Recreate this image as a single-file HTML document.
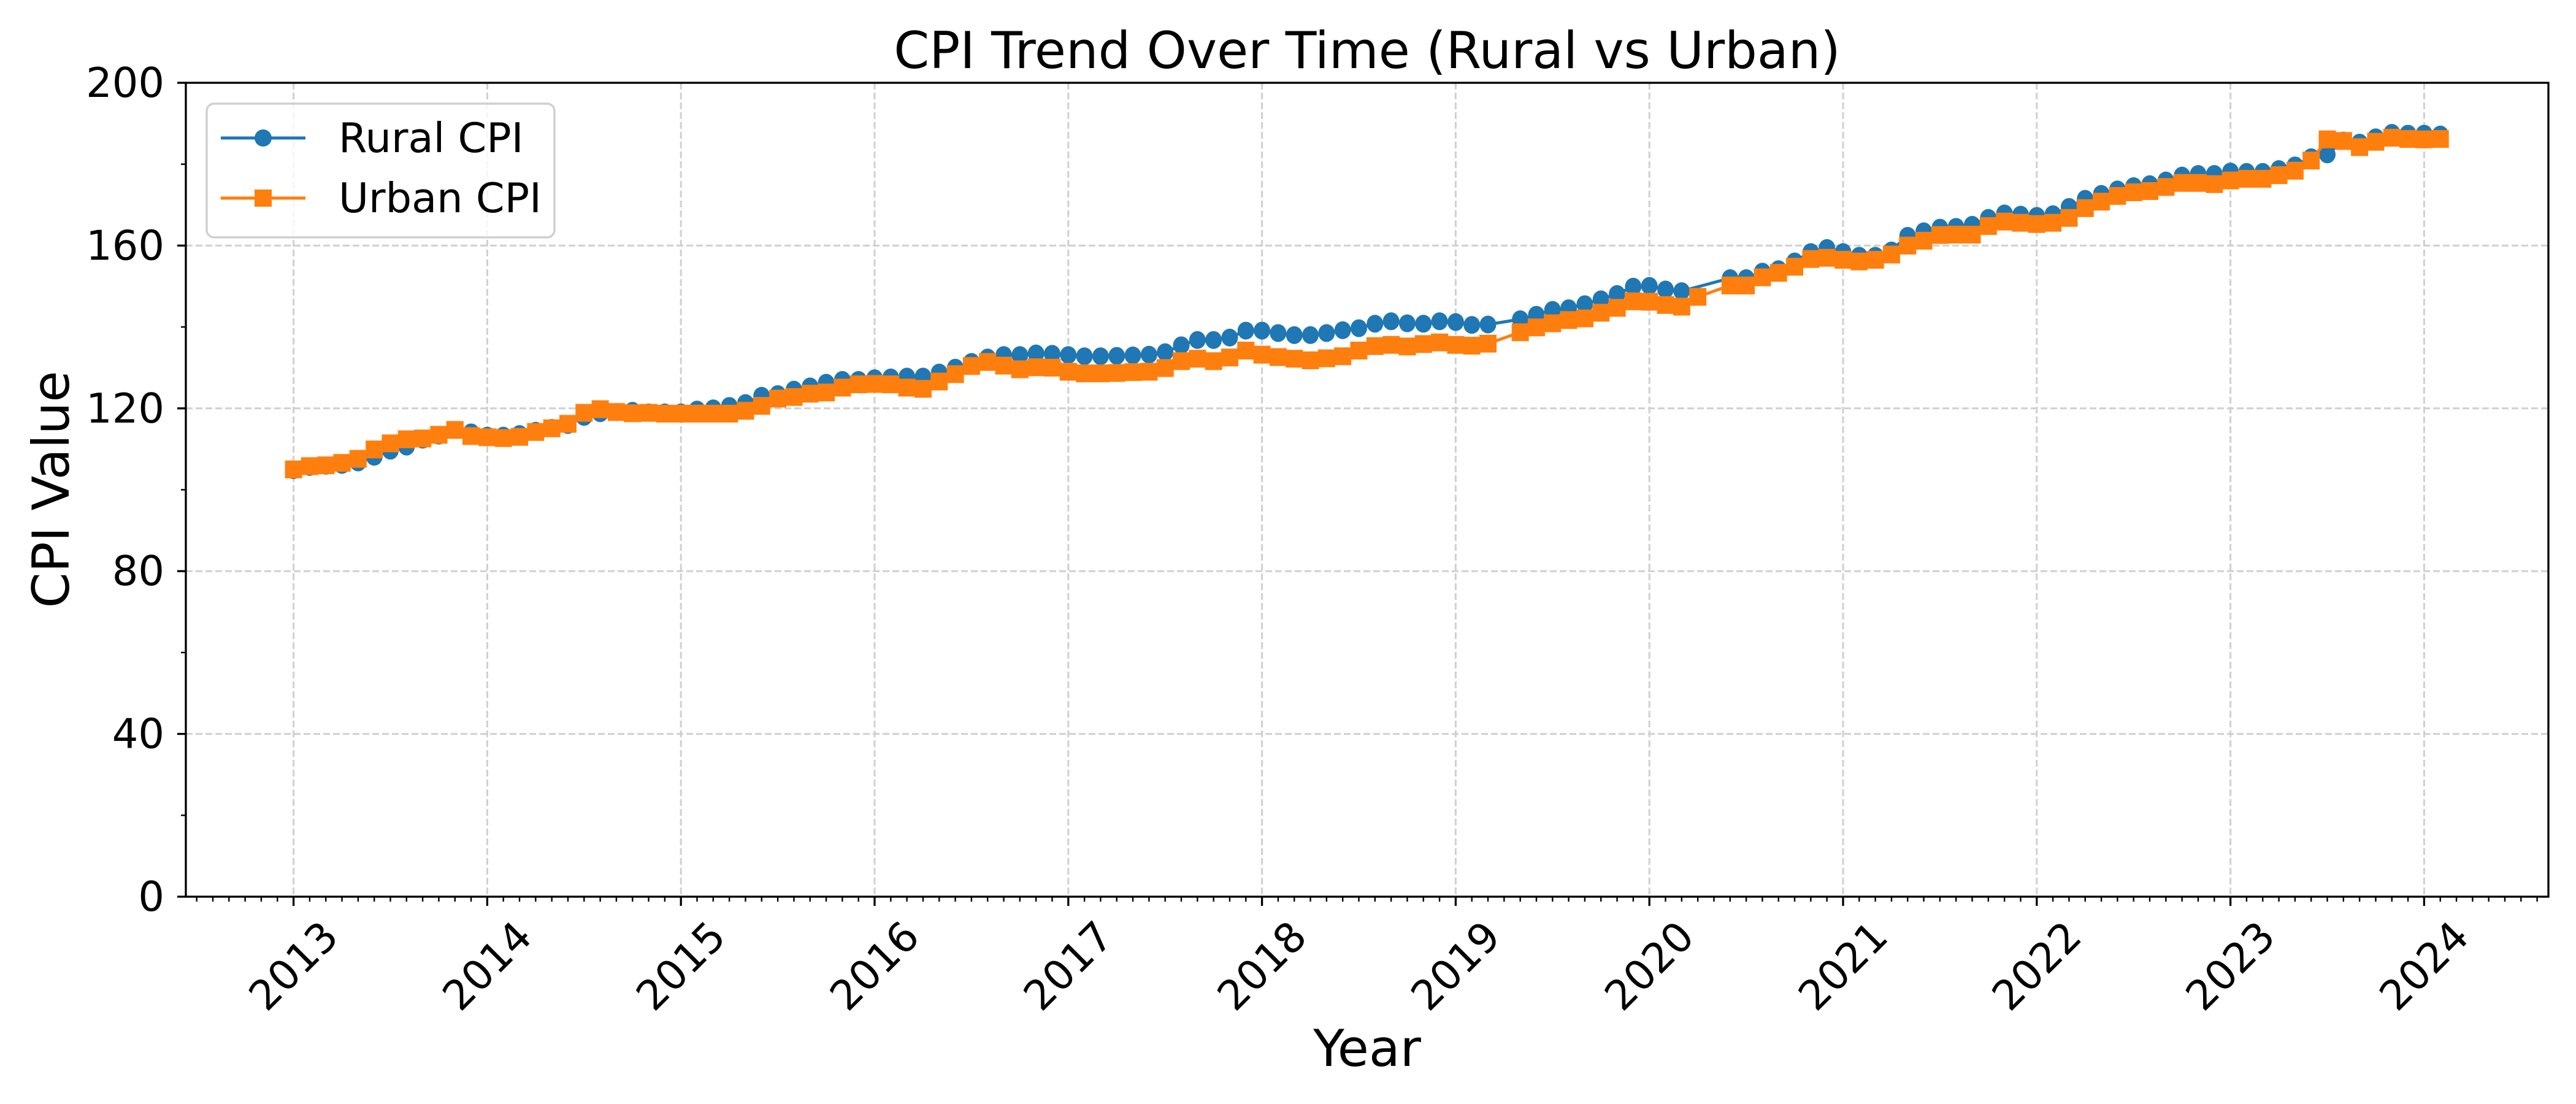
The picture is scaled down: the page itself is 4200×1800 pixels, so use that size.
<!DOCTYPE html>
<html><head><meta charset="utf-8">
<style>
html,body{margin:0;padding:0;background:#fff;}
svg{display:block;}
text{font-family:"DejaVu Sans","Liberation Sans",sans-serif;fill:#000;}
</style></head>
<body>
<svg id="chart" xmlns="http://www.w3.org/2000/svg" width="4200" height="1800" viewBox="0 0 4200 1800">
<rect x="0" y="0" width="4200" height="1800" fill="#fff"/>
<g id="grid"></g>
<g id="series"></g>
<g id="axes"></g>
<text x="2229" y="111" font-size="83" text-anchor="middle">CPI Trend Over Time (Rural vs Urban)</text>
<text x="2229" y="1738" font-size="83" text-anchor="middle">Year</text>
<text x="0" y="0" font-size="83" text-anchor="middle" transform="translate(112,798) rotate(-90)">CPI Value</text>
<g>
<rect x="337" y="169" width="567" height="218" rx="12" fill="#fff" fill-opacity="0.8" stroke="#d0d0d0" stroke-width="3.5"/>
<g>
<line x1="360" y1="225" x2="498" y2="225" stroke="#1f77b4" stroke-width="5"/>
<circle cx="429" cy="225" r="14" fill="#1f77b4"/>
<text x="552" y="248" font-size="67">Rural CPI</text>
</g>
<g>
<line x1="360" y1="323" x2="498" y2="323" stroke="#ff7f0e" stroke-width="5"/>
<rect x="415" y="309" width="28" height="28" fill="#ff7f0e"/>
<text x="552" y="346" font-size="67">Urban CPI</text>
</g>
</g>
</svg>
<script>
// Data: monthly from Jan 2013 (index 0) to Feb 2024 (index 133); null = missing month
const startYear = 2013;
const yearTicks = [2013,2014,2015,2016,2017,2018,2019,2020,2021,2022,2023,2024];
const yTicks = [0,40,80,120,160,200];
const ruralCPI = [
104.8,105.6,105.9,106.1,106.7,108.1,109.6,110.6,112.3,113.3,114.7,114.1,
113.3,113.3,113.7,114.5,115.2,115.9,117.9,118.8,119.1,119.4,119.0,119.0,
119.0,119.7,120.0,120.6,121.3,123.1,123.5,124.6,125.4,126.3,127.0,127.0,
127.4,127.6,127.8,127.8,128.8,130.0,131.4,132.5,133.1,133.1,133.5,133.4,
133.1,132.8,132.8,132.9,133.0,133.2,133.8,135.5,136.8,136.8,137.4,139.1,
139.1,138.5,138.0,138.0,138.5,139.2,139.7,140.8,141.4,140.9,140.8,141.4,
141.2,140.5,140.6,null,141.9,143.0,144.2,144.6,145.6,146.8,148.1,149.9,
150.1,149.2,148.8,null,null,152.0,152.0,153.6,154.2,156.1,158.4,159.4,
158.4,157.5,157.5,158.8,162.4,163.5,164.4,164.6,165.1,166.8,167.9,167.6,
167.3,167.7,169.5,171.5,172.7,173.8,174.6,175.1,176.0,177.2,177.6,177.6,
178.2,178.1,178.1,178.8,179.7,181.7,182.4,185.8,185.3,186.6,187.7,187.5,
187.5,187.3];
const urbanCPI = [
105.0,105.8,106.0,106.6,107.6,109.9,111.4,112.4,112.6,113.5,114.7,113.2,
112.9,112.7,113.0,114.2,115.1,116.2,118.9,119.8,119.1,118.8,118.9,118.7,
118.7,118.7,118.7,118.7,119.4,120.6,122.4,122.8,123.6,123.9,125.1,125.9,
126.0,125.9,125.1,124.8,126.6,128.4,130.4,131.4,130.5,129.6,130.1,130.0,
129.0,128.6,128.6,128.7,128.9,129.0,129.9,131.6,132.2,131.6,132.5,134.2,
133.2,132.6,132.2,131.8,132.3,132.8,134.2,135.3,135.6,135.2,135.8,136.2,
135.6,135.4,135.9,null,138.7,139.9,140.9,141.7,142.1,143.5,144.7,146.3,
146.2,145.4,145.0,147.4,null,150.2,150.2,152.2,153.3,154.8,156.7,157.0,
156.5,156.1,156.5,157.8,160.0,161.2,162.6,162.7,162.7,164.8,165.9,165.6,
165.3,165.6,166.8,169.2,170.8,172.2,173.1,173.4,174.4,175.4,175.4,175.1,
176.0,176.4,176.4,177.3,178.4,180.9,186.1,185.7,184.2,185.5,186.5,186.2,
186.1,186.2];

const NS='http://www.w3.org/2000/svg';
const L=303, R=4155, T=135, B=1462;
const x0=478.6, pxPerYear=315.8;
function xScale(m){return x0 + m*pxPerYear/12;}
function yScale(v){return B - (v-0)*(B-T)/200;}
function mk(tag,attrs,parent){const e=document.createElementNS(NS,tag);for(const k in attrs)e.setAttribute(k,attrs[k]);parent.appendChild(e);return e;}

const grid=document.getElementById('grid');
const axes=document.getElementById('axes');
const series=document.getElementById('series');

yearTicks.forEach(yr=>{
  const x=xScale((yr-startYear)*12);
  const g=mk('line',{x1:x,y1:T,x2:x,y2:B,stroke:'#d0d0d0','stroke-width':3,'stroke-dasharray':'11 5'},grid);
  
  
});
yTicks.forEach(v=>{
  const y=yScale(v);
  const g=mk('line',{x1:L,y1:y,x2:R,y2:y,stroke:'#d0d0d0','stroke-width':3,'stroke-dasharray':'11 5'},grid);
  
  
});

function drawSeries(vals,color,kind,name){
  let d='';
  vals.forEach((v,i)=>{
    if(v===null)return;
    d+=(d===''?'M':'L')+xScale(i).toFixed(1)+' '+yScale(v).toFixed(1)+' ';
  });
  const p=mk('path',{d:d,fill:'none',stroke:color,'stroke-width':5,'stroke-linejoin':'round'},series);
  
  
  vals.forEach((v,i)=>{
    if(v===null)return;
    const cx=xScale(i), cy=yScale(v);
    let e;
    if(kind==='circle') e=mk('ellipse',{cx:cx,cy:cy,rx:13.5,ry:14.5,fill:color},series);
    else e=mk('rect',{x:cx-14,y:cy-14.5,width:28,height:29,fill:color},series);
    
    
  });
}
drawSeries(ruralCPI,'#1f77b4','circle','rural-cpi');
drawSeries(urbanCPI,'#ff7f0e','square','urban-cpi');

const sp=mk('rect',{x:L,y:T,width:R-L,height:B-T,fill:'none',stroke:'#000','stroke-width':3.3},axes);



for(let m=-6;m<=139;m++){
  const x=xScale(m);
  if(x<L||x>R)continue;
  const major=(m%12===0)&&(m>=0)&&(m<=132);
  const t=mk('line',{x1:x,y1:B,x2:x,y2:B+(major?15:8),stroke:'#000','stroke-width':major?3.3:2.4},axes);
  
  
}
yearTicks.forEach(yr=>{
  const x=xScale((yr-startYear)*12);
  const t=mk('text',{x:0,y:0,'font-size':67,'text-anchor':'middle','dominant-baseline':'central',transform:'translate('+x+',1575) rotate(-45)'},axes);
  t.textContent=String(yr);
  
  
});
for(let v=0;v<=200;v+=20){
  const y=yScale(v);
  const major=(v%40===0);
  const t=mk('line',{x1:L-(major?14:8),y1:y,x2:L,y2:y,stroke:'#000','stroke-width':major?3.3:2.4},axes);
  
  
}
yTicks.forEach(v=>{
  const t=mk('text',{x:268,y:yScale(v),'font-size':67,'text-anchor':'end','dominant-baseline':'central'},axes);
  t.textContent=String(v);
  
  
});
</script>
</body></html>
